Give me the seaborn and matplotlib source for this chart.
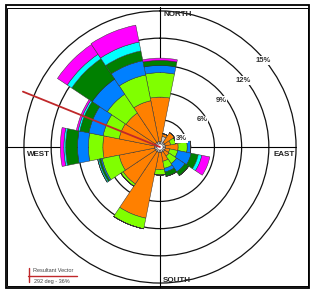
import numpy as np
import matplotlib
matplotlib.use("Agg")
import matplotlib.pyplot as plt
import seaborn as sns
from matplotlib.patches import Rectangle
from matplotlib.lines import Line2D

# --- data: 16 sectors, % frequency per speed class ---
directions = ["N", "NNE", "NE", "ENE", "E", "ESE", "SE", "SSE",
              "S", "SSW", "SW", "WSW", "W", "WNW", "NW", "NNW"]
dir_deg = np.arange(16) * 22.5

class_gray    = [0.6, 1.2, 0.6, 0.6, 0.6, 0.6, 0.6, 0.6, 0.6, 0.6, 0.6, 0.6, 0.6, 0.6, 0.6, 0.6]
class_orange  = [4.9, 0.3, 1.3, 0.6, 1.4, 0.5, 0.6, 1.0, 1.9, 7.4, 4.3, 4.0, 5.7, 4.0, 3.9, 4.6]
class_lime    = [2.7, 0.0, 0.0, 0.6, 1.0, 0.9, 1.0, 0.8, 0.6, 1.2, 0.3, 1.9, 1.6, 1.8, 2.5, 2.9]
class_blue    = [0.8, 0.0, 0.0, 0.0, 0.4, 1.5, 1.1, 0.4, 0.0, 0.0, 0.0, 0.15, 1.2, 1.6, 2.0, 1.6]
class_dgreen  = [0.55, 0.0, 0.0, 0.0, 0.0, 0.8, 0.5, 0.5, 0.0, 0.0, 0.0, 0.2, 1.3, 1.0, 2.7, 1.1]
class_cyan    = [0.0, 0.0, 0.0, 0.0, 0.0, 0.4, 0.0, 0.0, 0.0, 0.0, 0.0, 0.15, 0.2, 0.2, 0.6, 1.0]
class_magenta = [0.25, 0.0, 0.0, 0.0, 0.0, 0.9, 0.0, 0.0, 0.0, 0.0, 0.0, 0.0, 0.4, 0.2, 1.3, 1.9]

classes = [class_gray, class_orange, class_lime, class_blue,
           class_dgreen, class_cyan, class_magenta]
class_colors = ["#c8c8c8", "#ff8000", "#80ff00", "#0080ff",
                "#008000", "#00ffff", "#ff00ff"]

ring_values = [3, 6, 9, 12, 15]
ring_label_angle = [68, 57, 52.5, 51.5, 50]
ring_label_r = [2.55, 5.5, 8.5, 11.75, 14.8]

calm_radius = 0.3
resultant_dir = 292
resultant_len = 16.3
resultant_text = "292 deg - 36%"

W, H = 312, 290
RMAX = 15.5
PX_PER_PCT = 9.07
CX, CY = 160, 147

sns.set_style("white")
plt.rcParams['font.family'] = ['Liberation Sans', 'DejaVu Sans']

fig = plt.figure(figsize=(W / 100, H / 100), dpi=100)
rad = RMAX * PX_PER_PCT
ax = fig.add_axes([(CX - rad) / W, (H - CY - rad) / H, 2 * rad / W, 2 * rad / H],
                  projection='polar')
ax.set_theta_zero_location('N')
ax.set_theta_direction(-1)
ax.set_ylim(0, RMAX)
ax.set_axisbelow(True)
ax.set_facecolor('none')
ax.spines['polar'].set_visible(False)
ax.set_xticks([])
ax.set_yticks(ring_values)
ax.set_yticklabels([])
ax.yaxis.grid(True, color='#111111', lw=0.9)

# compass axis lines
for ang, length in zip([0, 90, 180, 270], [15.4, 15.0, 15.4, 17.0]):
    ax.plot([np.deg2rad(ang)] * 2, [0, length], color='black', lw=0.8,
            clip_on=False, zorder=0.6)

# stacked petals
theta = np.deg2rad(dir_deg)
width = np.deg2rad(22.5)
bottom = np.zeros(16)
for vals, col in zip(classes, class_colors):
    vals = np.array(vals)
    ax.bar(theta, vals, width=width, bottom=bottom, color=col,
           edgecolor='#333333', linewidth=0.35, zorder=2)
    bottom += vals

# calm circle
ax.bar(0, calm_radius, width=2 * np.pi, color='white', edgecolor='none', zorder=3)

# resultant vector
ax.plot([np.deg2rad(resultant_dir)] * 2, [0, resultant_len], color='#c0282a',
        lw=1.3, clip_on=False, zorder=4)

# ring labels
for v, a, r in zip(ring_values, ring_label_angle, ring_label_r):
    ax.text(np.deg2rad(a), r, f"{v}%", fontsize=5.5, fontweight='bold',
            color='#333333', ha='center', va='center', zorder=5,
            bbox=dict(boxstyle='square,pad=0.1', fc='white', ec='none'))

# compass labels
def fx(x):
    return x / W

def fy(y):
    return 1 - y / H

lab = dict(fontsize=5.8, fontweight='bold', color='#222222', va='center')
fig.text(fx(163), fy(14.5), "NORTH", ha='left', **lab)
fig.text(fx(163), fy(281), "SOUTH", ha='left', **lab)
fig.text(fx(26.5), fy(154.5), "WEST", ha='left', **lab)
fig.text(fx(295), fy(154.5), "EAST", ha='right', **lab)

# legend for resultant vector
fig.add_artist(Line2D([fx(28), fx(77)], [fy(275.5), fy(275.5)],
                      color='#c0282a', lw=1.0))
fig.add_artist(Line2D([fx(28.5), fx(28.5)], [fy(268), fy(281.5)],
                      color='#c0282a', lw=1.0))
fig.text(fx(33), fy(271), "Resultant Vector", fontsize=4, color='#444444',
         ha='left', va='center')
fig.text(fx(34), fy(281.5), resultant_text, fontsize=4, color='#444444',
         ha='left', va='center')

# double frame
fig.add_artist(Rectangle((fx(5.5), fy(288)), (309 - 5.5) / W, (288 - 5) / H,
                         transform=fig.transFigure, fill=False, lw=1.3,
                         edgecolor='black'))
fig.add_artist(Rectangle((fx(6.8), fy(285.5)), (308 - 6.8) / W, (285.5 - 7.8) / H,
                         transform=fig.transFigure, fill=False, lw=0.7,
                         edgecolor='black'))

fig.savefig("out.png", dpi=100)
